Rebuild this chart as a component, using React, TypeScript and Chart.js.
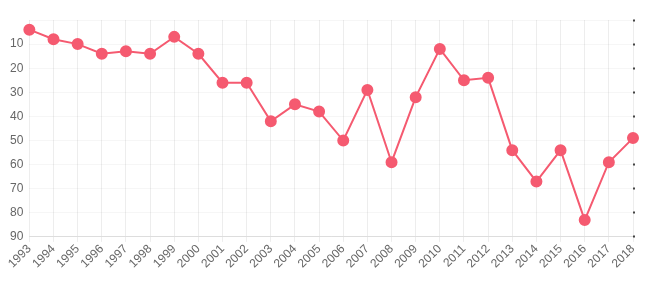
import React, { useEffect, useRef } from "react";
import { Chart, registerables } from "chart.js";

Chart.register(...registerables);

const years = ["1993","1994","1995","1996","1997","1998","1999","2000","2001","2002","2003","2004","2005","2006","2007","2008","2009","2010","2011","2012","2013","2014","2015","2016","2017","2018"];
const ranks = [4, 8, 10, 14, 13, 14, 7, 14, 26, 26, 42, 35, 38, 50, 29, 59, 32, 12, 25, 24, 54, 67, 54, 83, 59, 49];
const yMin = 0;
const yMax = 90;

const color = "rgb(245, 90, 112)";

export default function App() {
  const ref = useRef<HTMLCanvasElement>(null);
  useEffect(() => {
    document.body.style.margin = "0";
    const ctx = ref.current!;
    const chart = new Chart(ctx, {
      type: "line",
      data: {
        labels: years,
        datasets: [
          {
            data: ranks,
            borderColor: color,
            backgroundColor: color,
            borderWidth: 2,
            pointRadius: 5,
            pointHoverRadius: 5,
            tension: 0,
            yAxisID: "y",
          },
        ],
      },
      options: {
        animation: false,
        responsive: false,
        maintainAspectRatio: false,
        layout: { padding: { top: 20, right: 17, left: 4, bottom: 29 } },
        plugins: { legend: { display: false }, tooltip: { enabled: false } },
        scales: {
          x: {
            offset: false,
            grid: { color: "rgba(0,0,0,0.07)", tickLength: 5 },
            border: { color: "rgba(0,0,0,0.1)" },
            ticks: {
              color: "#666",
              font: { size: 12, family: "'Helvetica Neue', Helvetica, Arial, sans-serif" },
              maxRotation: 45,
              minRotation: 45,
              autoSkip: false,
              padding: 0,
            },
          },
          y: {
            reverse: true,
            min: yMin,
            max: yMax,
            grid: { color: "rgba(0,0,0,0.035)", drawTicks: false },
            border: { display: false },
            ticks: {
              stepSize: 10,
              color: "#666",
              padding: 6,
              font: { size: 12, family: "'Helvetica Neue', Helvetica, Arial, sans-serif" },
              callback: (v: any) => (v === 0 ? "" : String(v)),
            },
          },
          y1: {
            position: "right",
            reverse: true,
            min: yMin,
            max: yMax,
            grid: { drawOnChartArea: false, tickLength: 2, color: "#444", tickColor: "#444", tickWidth: 2 },
            border: { display: false },
            ticks: { stepSize: 10, callback: () => "", padding: 0 },
          },
        },
      },
    });
    return () => chart.destroy();
  }, []);
  return <canvas ref={ref} width={652} height={300} style={{ display: "block" }} />;
}
